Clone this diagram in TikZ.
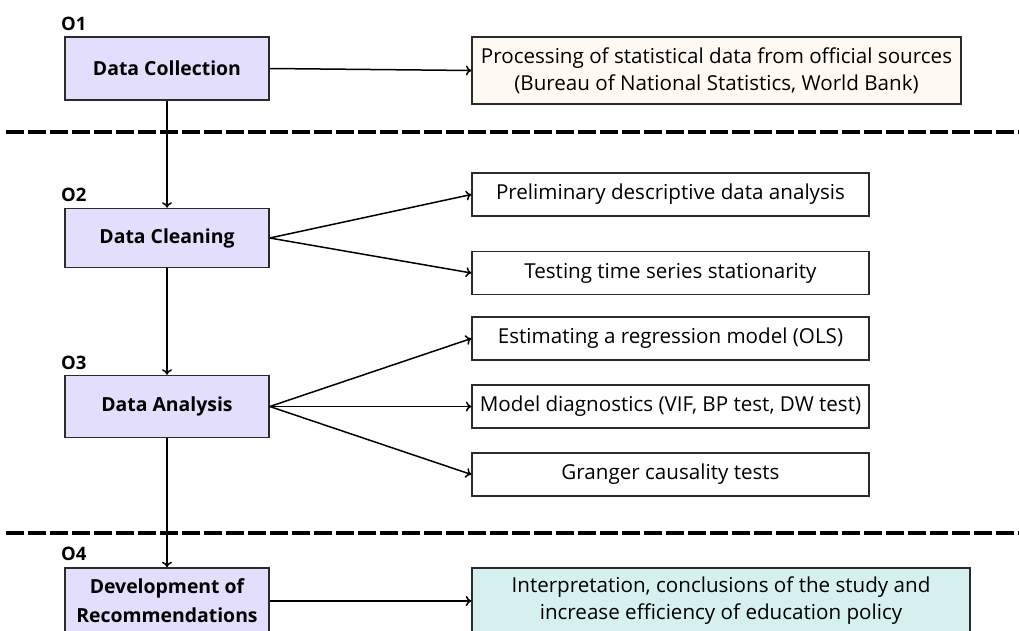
\documentclass[tikz,border=0pt]{standalone}
\usepackage{fontspec}
\setmainfont{Open Sans}
\usetikzlibrary{arrows.meta}
\definecolor{lav}{HTML}{E3DEFC}
\definecolor{cream}{HTML}{FFFAF2}
\definecolor{cyanl}{HTML}{D6F0F0}
\definecolor{bord}{HTML}{2B2B2B}
\begin{document}
\begin{tikzpicture}[x=1pt,y=-1pt,
  stage/.style={draw=bord,line width=1.5pt,fill=lav,minimum width=204pt,minimum height=62pt,
    font=\fontsize{19.4}{29}\selectfont\bfseries,align=center,inner sep=0pt},
  task/.style={draw=bord,line width=1.3pt,minimum width=397pt,minimum height=43pt,
    font=\fontsize{20.6}{27}\selectfont,align=center,inner sep=0pt},
  olab/.style={anchor=west,font=\fontsize{18.5}{20}\selectfont\bfseries,inner sep=0pt},
  conn/.style={line width=1.5pt,-{To[length=5.5pt,width=10pt]}},
  sep/.style={line width=3.5pt,dash pattern=on 18pt off 4pt}]
\useasboundingbox (0,0) rectangle (1019,631);
\clip (0,0) rectangle (1019,631);
\fill[white] (0,0) rectangle (1019,631);
% separators
\draw[sep] (6,132) -- (1019,132);
\draw[sep] (6,533) -- (1019,533);
% stage labels
\node[olab] (o1) at (61,24) {O1};
\node[olab] (o2) at (61,195) {O2};
\node[olab] (o3) at (61,363) {O3};
\node[olab] (o4) at (61,554) {O4};
% stages
\node[stage,minimum height=63pt] (dc) at (167,68.5) {Data Collection};
\node[stage,minimum height=59pt] (cl) at (167,238) {Data Cleaning};
\node[stage] (an) at (167,406.5) {Data Analysis};
\node[stage,minimum height=66pt] (dv) at (167,601) {Development of\\Recommendations};
% tasks
\node[task,fill=cream,minimum width=489pt,minimum height=67pt] (p1) at (716.5,70.5)
  {Processing of statistical data from official sources\\(Bureau of National Statistics, World Bank)};
\node[task] (t1) at (670.5,194.5) {Preliminary descriptive data analysis};
\node[task] (t2) at (670.5,273) {Testing time series stationarity};
\node[task] (t3) at (670.5,338.5) {Estimating a regression model (OLS)};
\node[task] (t4) at (670.5,406.5) {Model diagnostics (VIF, BP test, DW test)};
\node[task] (t5) at (670.5,474.5) {Granger causality tests};
\node[task,fill=cyanl,minimum width=498pt,minimum height=66pt] (p2) at (721,601)
  {Interpretation, conclusions of the study and\\increase efficiency of education policy};
% connectors
\draw[conn] (dc.east) -- (p1.west);
\draw[conn] (cl.east) -- (t1.west);
\draw[conn] (cl.east) -- (t2.west);
\draw[conn] (an.east) -- (t3.west);
\draw[conn] (an.east) -- (t4.west);
\draw[conn] (an.east) -- (t5.west);
\draw[conn] (dv.east) -- (p2.west);
\draw[conn] (dc.south) -- (cl.north);
\draw[conn] (cl.south) -- (an.north);
\draw[conn] (an.south) -- (dv.north);
\end{tikzpicture}
\end{document}
